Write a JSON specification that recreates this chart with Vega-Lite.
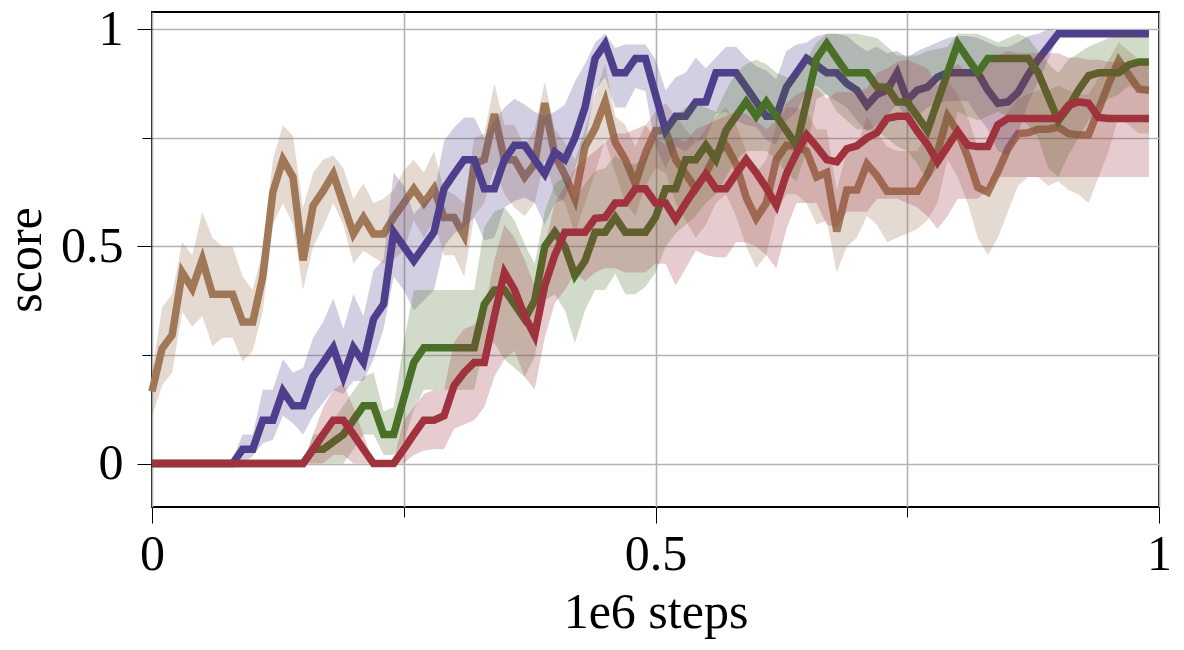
{
"$schema":"https://vega.github.io/schema/vega-lite/v6.json",
"width":1007,"height":495,
"autosize":{"type":"none"},
"padding":{"left":152,"top":12,"right":25,"bottom":143},
"background":"white",
"data":{"values":[
{"x":0.00,"p":0,"pl":0,"ph":0,"g":0,"gl":0,"gh":0,"r":0,"rl":0,"rh":0,"b":0.166,"bl":0.11,"bh":0.21},
{"x":0.01,"p":0,"pl":0,"ph":0,"g":0,"gl":0,"gh":0,"r":0,"rl":0,"rh":0,"b":0.265,"bl":0.18,"bh":0.36},
{"x":0.02,"p":0,"pl":0,"ph":0,"g":0,"gl":0,"gh":0,"r":0,"rl":0,"rh":0,"b":0.296,"bl":0.21,"bh":0.39},
{"x":0.03,"p":0,"pl":0,"ph":0,"g":0,"gl":0,"gh":0,"r":0,"rl":0,"rh":0,"b":0.44,"bl":0.35,"bh":0.51},
{"x":0.04,"p":0,"pl":0,"ph":0,"g":0,"gl":0,"gh":0,"r":0,"rl":0,"rh":0,"b":0.403,"bl":0.315,"bh":0.48},
{"x":0.05,"p":0,"pl":0,"ph":0,"g":0,"gl":0,"gh":0,"r":0,"rl":0,"rh":0,"b":0.47,"bl":0.34,"bh":0.58},
{"x":0.06,"p":0,"pl":0,"ph":0,"g":0,"gl":0,"gh":0,"r":0,"rl":0,"rh":0,"b":0.39,"bl":0.27,"bh":0.52},
{"x":0.07,"p":0,"pl":0,"ph":0,"g":0,"gl":0,"gh":0,"r":0,"rl":0,"rh":0,"b":0.39,"bl":0.29,"bh":0.5},
{"x":0.08,"p":0,"pl":0,"ph":0.01,"g":0,"gl":0,"gh":0,"r":0,"rl":0,"rh":0,"b":0.39,"bl":0.29,"bh":0.5},
{"x":0.09,"p":0.033,"pl":0,"ph":0.067,"g":0,"gl":0,"gh":0,"r":0,"rl":0,"rh":0,"b":0.326,"bl":0.235,"bh":0.43},
{"x":0.10,"p":0.033,"pl":0.017,"ph":0.067,"g":0,"gl":0,"gh":0,"r":0,"rl":0,"rh":0,"b":0.326,"bl":0.26,"bh":0.4},
{"x":0.11,"p":0.1,"pl":0.047,"ph":0.17,"g":0,"gl":0,"gh":0,"r":0,"rl":0,"rh":0,"b":0.43,"bl":0.35,"bh":0.49},
{"x":0.12,"p":0.1,"pl":0.055,"ph":0.17,"g":0,"gl":0,"gh":0,"r":0,"rl":0,"rh":0,"b":0.625,"bl":0.55,"bh":0.7},
{"x":0.13,"p":0.167,"pl":0.11,"ph":0.24,"g":0,"gl":0,"gh":0,"r":0,"rl":0,"rh":0,"b":0.7,"bl":0.6,"bh":0.78},
{"x":0.14,"p":0.133,"pl":0.093,"ph":0.21,"g":0,"gl":0,"gh":0,"r":0,"rl":0,"rh":0,"b":0.66,"bl":0.55,"bh":0.755},
{"x":0.15,"p":0.133,"pl":0.067,"ph":0.22,"g":0,"gl":0,"gh":0,"r":0,"rl":0,"rh":0,"b":0.468,"bl":0.4,"bh":0.59},
{"x":0.16,"p":0.2,"pl":0.11,"ph":0.29,"g":0.033,"gl":0,"gh":0.067,"r":0.033,"rl":0,"rh":0.067,"b":0.594,"bl":0.5,"bh":0.67},
{"x":0.17,"p":0.233,"pl":0.14,"ph":0.326,"g":0.033,"gl":0,"gh":0.067,"r":0.067,"rl":0,"rh":0.13,"b":0.628,"bl":0.545,"bh":0.7},
{"x":0.18,"p":0.267,"pl":0.17,"ph":0.38,"g":0.05,"gl":0,"gh":0.1,"r":0.1,"rl":0.02,"rh":0.17,"b":0.667,"bl":0.6,"bh":0.71},
{"x":0.19,"p":0.2,"pl":0.16,"ph":0.31,"g":0.067,"gl":0,"gh":0.133,"r":0.1,"rl":0.02,"rh":0.185,"b":0.598,"bl":0.55,"bh":0.68},
{"x":0.20,"p":0.267,"pl":0.19,"ph":0.39,"g":0.1,"gl":0.033,"gh":0.167,"r":0.067,"rl":0,"rh":0.13,"b":0.529,"bl":0.46,"bh":0.61},
{"x":0.21,"p":0.233,"pl":0.19,"ph":0.34,"g":0.133,"gl":0.067,"gh":0.2,"r":0.033,"rl":0,"rh":0.067,"b":0.567,"bl":0.49,"bh":0.645},
{"x":0.22,"p":0.333,"pl":0.24,"ph":0.445,"g":0.133,"gl":0.067,"gh":0.21,"r":0,"rl":0,"rh":0,"b":0.529,"bl":0.475,"bh":0.6},
{"x":0.23,"p":0.367,"pl":0.31,"ph":0.47,"g":0.067,"gl":0.02,"gh":0.12,"r":0,"rl":0,"rh":0,"b":0.529,"bl":0.46,"bh":0.61},
{"x":0.24,"p":0.533,"pl":0.43,"ph":0.67,"g":0.067,"gl":0.02,"gh":0.13,"r":0,"rl":0,"rh":0.01,"b":0.567,"bl":0.47,"bh":0.63},
{"x":0.25,"p":0.5,"pl":0.4,"ph":0.64,"g":0.15,"gl":0.05,"gh":0.28,"r":0.033,"rl":0,"rh":0.1,"b":0.6,"bl":0.49,"bh":0.675},
{"x":0.26,"p":0.467,"pl":0.353,"ph":0.575,"g":0.233,"gl":0.124,"gh":0.4,"r":0.067,"rl":0.02,"rh":0.13,"b":0.633,"bl":0.56,"bh":0.7},
{"x":0.27,"p":0.5,"pl":0.376,"ph":0.6,"g":0.267,"gl":0.17,"gh":0.4,"r":0.1,"rl":0.03,"rh":0.16,"b":0.6,"bl":0.52,"bh":0.67},
{"x":0.28,"p":0.533,"pl":0.4,"ph":0.62,"g":0.267,"gl":0.17,"gh":0.4,"r":0.1,"rl":0.033,"rh":0.17,"b":0.633,"bl":0.56,"bh":0.72},
{"x":0.29,"p":0.633,"pl":0.5,"ph":0.743,"g":0.267,"gl":0.17,"gh":0.4,"r":0.11,"rl":0.033,"rh":0.17,"b":0.567,"bl":0.48,"bh":0.63},
{"x":0.30,"p":0.667,"pl":0.53,"ph":0.774,"g":0.267,"gl":0.17,"gh":0.4,"r":0.18,"rl":0.08,"rh":0.28,"b":0.567,"bl":0.48,"bh":0.62},
{"x":0.31,"p":0.7,"pl":0.544,"ph":0.797,"g":0.267,"gl":0.17,"gh":0.4,"r":0.21,"rl":0.09,"rh":0.31,"b":0.525,"bl":0.43,"bh":0.6},
{"x":0.32,"p":0.7,"pl":0.567,"ph":0.797,"g":0.267,"gl":0.17,"gh":0.4,"r":0.233,"rl":0.1,"rh":0.32,"b":0.69,"bl":0.57,"bh":0.75},
{"x":0.33,"p":0.633,"pl":0.514,"ph":0.75,"g":0.367,"gl":0.277,"gh":0.545,"r":0.233,"rl":0.13,"rh":0.35,"b":0.7,"bl":0.6,"bh":0.76},
{"x":0.34,"p":0.633,"pl":0.52,"ph":0.79,"g":0.4,"gl":0.277,"gh":0.58,"r":0.34,"rl":0.2,"rh":0.47,"b":0.805,"bl":0.68,"bh":0.875},
{"x":0.35,"p":0.7,"pl":0.59,"ph":0.82,"g":0.4,"gl":0.24,"gh":0.59,"r":0.44,"rl":0.24,"rh":0.55,"b":0.7,"bl":0.62,"bh":0.78},
{"x":0.36,"p":0.733,"pl":0.605,"ph":0.84,"g":0.367,"gl":0.22,"gh":0.56,"r":0.4,"rl":0.26,"rh":0.52,"b":0.7,"bl":0.59,"bh":0.78},
{"x":0.37,"p":0.733,"pl":0.613,"ph":0.827,"g":0.333,"gl":0.2,"gh":0.506,"r":0.34,"rl":0.2,"rh":0.47,"b":0.66,"bl":0.57,"bh":0.73},
{"x":0.38,"p":0.7,"pl":0.6,"ph":0.81,"g":0.375,"gl":0.246,"gh":0.46,"r":0.295,"rl":0.17,"rh":0.41,"b":0.69,"bl":0.6,"bh":0.77},
{"x":0.39,"p":0.667,"pl":0.55,"ph":0.8,"g":0.5,"gl":0.376,"gh":0.58,"r":0.41,"rl":0.29,"rh":0.5,"b":0.83,"bl":0.7,"bh":0.88},
{"x":0.40,"p":0.717,"pl":0.6,"ph":0.81,"g":0.533,"gl":0.39,"gh":0.644,"r":0.48,"rl":0.37,"rh":0.6,"b":0.71,"bl":0.62,"bh":0.77},
{"x":0.41,"p":0.7,"pl":0.61,"ph":0.827,"g":0.5,"gl":0.353,"gh":0.66,"r":0.533,"rl":0.4,"rh":0.64,"b":0.665,"bl":0.6,"bh":0.74},
{"x":0.42,"p":0.75,"pl":0.68,"ph":0.88,"g":0.433,"gl":0.277,"gh":0.61,"r":0.533,"rl":0.44,"rh":0.68,"b":0.61,"bl":0.53,"bh":0.7},
{"x":0.43,"p":0.82,"pl":0.74,"ph":0.92,"g":0.467,"gl":0.353,"gh":0.644,"r":0.533,"rl":0.42,"rh":0.7,"b":0.73,"bl":0.6,"bh":0.77},
{"x":0.44,"p":0.933,"pl":0.86,"ph":0.97,"g":0.533,"gl":0.4,"gh":0.674,"r":0.565,"rl":0.44,"rh":0.72,"b":0.772,"bl":0.67,"bh":0.85},
{"x":0.45,"p":0.967,"pl":0.89,"ph":0.99,"g":0.533,"gl":0.4,"gh":0.68,"r":0.567,"rl":0.45,"rh":0.74,"b":0.834,"bl":0.745,"bh":0.92},
{"x":0.46,"p":0.9,"pl":0.82,"ph":0.957,"g":0.567,"gl":0.437,"gh":0.71,"r":0.6,"rl":0.45,"rh":0.76,"b":0.74,"bl":0.67,"bh":0.8},
{"x":0.47,"p":0.9,"pl":0.82,"ph":0.965,"g":0.533,"gl":0.39,"gh":0.69,"r":0.6,"rl":0.44,"rh":0.76,"b":0.7,"bl":0.6,"bh":0.78},
{"x":0.48,"p":0.933,"pl":0.865,"ph":0.965,"g":0.533,"gl":0.39,"gh":0.69,"r":0.633,"rl":0.44,"rh":0.77,"b":0.645,"bl":0.57,"bh":0.73},
{"x":0.49,"p":0.933,"pl":0.858,"ph":0.965,"g":0.533,"gl":0.407,"gh":0.705,"r":0.633,"rl":0.44,"rh":0.78,"b":0.715,"bl":0.64,"bh":0.78},
{"x":0.50,"p":0.85,"pl":0.73,"ph":0.93,"g":0.567,"gl":0.44,"gh":0.75,"r":0.6,"rl":0.46,"rh":0.75,"b":0.767,"bl":0.68,"bh":0.81},
{"x":0.51,"p":0.767,"pl":0.68,"ph":0.86,"g":0.633,"gl":0.5,"gh":0.78,"r":0.6,"rl":0.46,"rh":0.735,"b":0.767,"bl":0.67,"bh":0.83},
{"x":0.52,"p":0.8,"pl":0.73,"ph":0.89,"g":0.633,"gl":0.53,"gh":0.8,"r":0.563,"rl":0.41,"rh":0.75,"b":0.7,"bl":0.6,"bh":0.8},
{"x":0.53,"p":0.8,"pl":0.72,"ph":0.9,"g":0.7,"gl":0.55,"gh":0.82,"r":0.6,"rl":0.45,"rh":0.74,"b":0.667,"bl":0.56,"bh":0.77},
{"x":0.54,"p":0.833,"pl":0.74,"ph":0.935,"g":0.7,"gl":0.57,"gh":0.83,"r":0.635,"rl":0.49,"rh":0.77,"b":0.633,"bl":0.52,"bh":0.74},
{"x":0.55,"p":0.833,"pl":0.75,"ph":0.91,"g":0.733,"gl":0.6,"gh":0.82,"r":0.667,"rl":0.48,"rh":0.78,"b":0.667,"bl":0.55,"bh":0.77},
{"x":0.56,"p":0.9,"pl":0.805,"ph":0.935,"g":0.7,"gl":0.62,"gh":0.81,"r":0.633,"rl":0.475,"rh":0.79,"b":0.715,"bl":0.6,"bh":0.8},
{"x":0.57,"p":0.9,"pl":0.81,"ph":0.96,"g":0.767,"gl":0.66,"gh":0.86,"r":0.633,"rl":0.475,"rh":0.8,"b":0.733,"bl":0.62,"bh":0.82},
{"x":0.58,"p":0.9,"pl":0.79,"ph":0.96,"g":0.8,"gl":0.7,"gh":0.9,"r":0.667,"rl":0.51,"rh":0.81,"b":0.69,"bl":0.57,"bh":0.78},
{"x":0.59,"p":0.867,"pl":0.78,"ph":0.935,"g":0.833,"gl":0.72,"gh":0.92,"r":0.7,"rl":0.51,"rh":0.805,"b":0.613,"bl":0.5,"bh":0.72},
{"x":0.60,"p":0.833,"pl":0.775,"ph":0.915,"g":0.8,"gl":0.72,"gh":0.93,"r":0.67,"rl":0.5,"rh":0.79,"b":0.565,"bl":0.45,"bh":0.67},
{"x":0.61,"p":0.8,"pl":0.745,"ph":0.905,"g":0.833,"gl":0.72,"gh":0.92,"r":0.635,"rl":0.48,"rh":0.77,"b":0.6,"bl":0.48,"bh":0.7},
{"x":0.62,"p":0.8,"pl":0.735,"ph":0.885,"g":0.8,"gl":0.7,"gh":0.9,"r":0.595,"rl":0.45,"rh":0.79,"b":0.7,"bl":0.58,"bh":0.78},
{"x":0.63,"p":0.867,"pl":0.79,"ph":0.95,"g":0.767,"gl":0.67,"gh":0.89,"r":0.667,"rl":0.54,"rh":0.83,"b":0.733,"bl":0.62,"bh":0.82},
{"x":0.64,"p":0.9,"pl":0.81,"ph":0.965,"g":0.733,"gl":0.65,"gh":0.89,"r":0.715,"rl":0.6,"rh":0.85,"b":0.73,"bl":0.62,"bh":0.82},
{"x":0.65,"p":0.933,"pl":0.86,"ph":0.97,"g":0.833,"gl":0.72,"gh":0.93,"r":0.757,"rl":0.6,"rh":0.86,"b":0.72,"bl":0.6,"bh":0.81},
{"x":0.66,"p":0.917,"pl":0.87,"ph":0.985,"g":0.933,"gl":0.84,"gh":0.97,"r":0.73,"rl":0.6,"rh":0.865,"b":0.66,"bl":0.55,"bh":0.77},
{"x":0.67,"p":0.9,"pl":0.85,"ph":0.99,"g":0.967,"gl":0.85,"gh":0.99,"r":0.7,"rl":0.55,"rh":0.84,"b":0.67,"bl":0.56,"bh":0.77},
{"x":0.68,"p":0.9,"pl":0.835,"ph":0.99,"g":0.933,"gl":0.81,"gh":0.99,"r":0.695,"rl":0.545,"rh":0.855,"b":0.535,"bl":0.44,"bh":0.63},
{"x":0.69,"p":0.875,"pl":0.82,"ph":0.985,"g":0.9,"gl":0.79,"gh":0.99,"r":0.725,"rl":0.58,"rh":0.855,"b":0.63,"bl":0.5,"bh":0.72},
{"x":0.70,"p":0.86,"pl":0.79,"ph":0.965,"g":0.9,"gl":0.77,"gh":0.99,"r":0.732,"rl":0.58,"rh":0.855,"b":0.63,"bl":0.52,"bh":0.73},
{"x":0.71,"p":0.825,"pl":0.765,"ph":0.95,"g":0.9,"gl":0.77,"gh":0.985,"r":0.75,"rl":0.58,"rh":0.865,"b":0.69,"bl":0.57,"bh":0.8},
{"x":0.72,"p":0.85,"pl":0.78,"ph":0.96,"g":0.867,"gl":0.765,"gh":0.98,"r":0.762,"rl":0.61,"rh":0.9,"b":0.663,"bl":0.55,"bh":0.76},
{"x":0.73,"p":0.86,"pl":0.8,"ph":0.945,"g":0.867,"gl":0.75,"gh":0.96,"r":0.795,"rl":0.61,"rh":0.91,"b":0.627,"bl":0.51,"bh":0.73},
{"x":0.74,"p":0.9,"pl":0.83,"ph":0.95,"g":0.833,"gl":0.73,"gh":0.94,"r":0.8,"rl":0.61,"rh":0.925,"b":0.627,"bl":0.52,"bh":0.72},
{"x":0.75,"p":0.837,"pl":0.79,"ph":0.935,"g":0.833,"gl":0.72,"gh":0.94,"r":0.8,"rl":0.6,"rh":0.93,"b":0.627,"bl":0.53,"bh":0.72},
{"x":0.76,"p":0.86,"pl":0.8,"ph":0.95,"g":0.8,"gl":0.69,"gh":0.94,"r":0.765,"rl":0.59,"rh":0.92,"b":0.627,"bl":0.54,"bh":0.72},
{"x":0.77,"p":0.867,"pl":0.82,"ph":0.96,"g":0.767,"gl":0.65,"gh":0.95,"r":0.735,"rl":0.57,"rh":0.91,"b":0.665,"bl":0.56,"bh":0.76},
{"x":0.78,"p":0.89,"pl":0.83,"ph":0.97,"g":0.833,"gl":0.68,"gh":0.955,"r":0.695,"rl":0.54,"rh":0.87,"b":0.717,"bl":0.6,"bh":0.8},
{"x":0.79,"p":0.9,"pl":0.835,"ph":0.98,"g":0.9,"gl":0.72,"gh":0.96,"r":0.73,"rl":0.57,"rh":0.9,"b":0.8,"bl":0.7,"bh":0.88},
{"x":0.80,"p":0.9,"pl":0.835,"ph":0.985,"g":0.967,"gl":0.81,"gh":0.99,"r":0.765,"rl":0.61,"rh":0.92,"b":0.765,"bl":0.66,"bh":0.85},
{"x":0.81,"p":0.9,"pl":0.835,"ph":0.985,"g":0.933,"gl":0.8,"gh":0.99,"r":0.733,"rl":0.61,"rh":0.9,"b":0.707,"bl":0.6,"bh":0.8},
{"x":0.82,"p":0.9,"pl":0.8,"ph":0.98,"g":0.9,"gl":0.79,"gh":0.99,"r":0.73,"rl":0.61,"rh":0.89,"b":0.636,"bl":0.52,"bh":0.73},
{"x":0.83,"p":0.86,"pl":0.77,"ph":0.97,"g":0.933,"gl":0.8,"gh":0.98,"r":0.73,"rl":0.63,"rh":0.92,"b":0.625,"bl":0.48,"bh":0.72},
{"x":0.84,"p":0.83,"pl":0.72,"ph":0.96,"g":0.933,"gl":0.81,"gh":0.97,"r":0.78,"rl":0.66,"rh":0.94,"b":0.672,"bl":0.52,"bh":0.76},
{"x":0.85,"p":0.833,"pl":0.71,"ph":0.96,"g":0.933,"gl":0.8,"gh":0.98,"r":0.795,"rl":0.66,"rh":0.95,"b":0.725,"bl":0.58,"bh":0.81},
{"x":0.86,"p":0.855,"pl":0.76,"ph":0.97,"g":0.933,"gl":0.8,"gh":0.99,"r":0.795,"rl":0.66,"rh":0.945,"b":0.76,"bl":0.64,"bh":0.84},
{"x":0.87,"p":0.895,"pl":0.83,"ph":0.985,"g":0.933,"gl":0.78,"gh":0.98,"r":0.795,"rl":0.66,"rh":0.945,"b":0.762,"bl":0.66,"bh":0.85},
{"x":0.88,"p":0.93,"pl":0.88,"ph":0.99,"g":0.9,"gl":0.75,"gh":0.95,"r":0.795,"rl":0.66,"rh":0.945,"b":0.77,"bl":0.66,"bh":0.86},
{"x":0.89,"p":0.96,"pl":0.93,"ph":1.0,"g":0.845,"gl":0.68,"gh":0.92,"r":0.795,"rl":0.66,"rh":0.945,"b":0.77,"bl":0.64,"bh":0.86},
{"x":0.90,"p":0.99,"pl":0.985,"ph":0.995,"g":0.79,"gl":0.66,"gh":0.9,"r":0.795,"rl":0.66,"rh":0.945,"b":0.775,"bl":0.65,"bh":0.87},
{"x":0.91,"p":0.99,"pl":0.985,"ph":0.995,"g":0.82,"gl":0.71,"gh":0.93,"r":0.825,"rl":0.66,"rh":0.935,"b":0.76,"bl":0.63,"bh":0.86},
{"x":0.92,"p":0.99,"pl":0.985,"ph":0.995,"g":0.86,"gl":0.75,"gh":0.945,"r":0.833,"rl":0.66,"rh":0.935,"b":0.757,"bl":0.62,"bh":0.85},
{"x":0.93,"p":0.99,"pl":0.985,"ph":0.995,"g":0.893,"gl":0.79,"gh":0.96,"r":0.83,"rl":0.66,"rh":0.93,"b":0.757,"bl":0.6,"bh":0.85},
{"x":0.94,"p":0.99,"pl":0.985,"ph":0.995,"g":0.9,"gl":0.82,"gh":0.97,"r":0.797,"rl":0.66,"rh":0.93,"b":0.815,"bl":0.66,"bh":0.89},
{"x":0.95,"p":0.99,"pl":0.985,"ph":0.995,"g":0.9,"gl":0.84,"gh":0.98,"r":0.795,"rl":0.66,"rh":0.925,"b":0.875,"bl":0.72,"bh":0.93},
{"x":0.96,"p":0.99,"pl":0.985,"ph":0.995,"g":0.9,"gl":0.85,"gh":0.985,"r":0.795,"rl":0.66,"rh":0.925,"b":0.928,"bl":0.8,"bh":0.97},
{"x":0.97,"p":0.99,"pl":0.985,"ph":0.995,"g":0.918,"gl":0.87,"gh":0.99,"r":0.795,"rl":0.66,"rh":0.925,"b":0.895,"bl":0.78,"bh":0.95},
{"x":0.98,"p":0.99,"pl":0.985,"ph":0.995,"g":0.925,"gl":0.86,"gh":0.985,"r":0.795,"rl":0.66,"rh":0.925,"b":0.862,"bl":0.76,"bh":0.93},
{"x":0.99,"p":0.99,"pl":0.985,"ph":0.995,"g":0.925,"gl":0.85,"gh":0.985,"r":0.795,"rl":0.66,"rh":0.925,"b":0.86,"bl":0.76,"bh":0.93}
]},
"encoding":{
"x":{"field":"x","type":"quantitative","scale":{"domain":[0,1],"nice":false,"zero":false},
"axis":{"title":"1e6 steps","values":[0,0.25,0.5,0.75,1],"format":"~g","labelExpr":"datum.value == 0.25 || datum.value == 0.75 ? '' : datum.label","tickSize":{"condition":{"test":"datum.value == 0.25 || datum.value == 0.75","value":10},"value":16},"labelPadding":6,"titlePadding":8,"labelFlush":false}}
},
"layer":[
{"mark":{"type":"area","color":"#a07858","opacity":0.27},"encoding":{"y":{"field":"bl","type":"quantitative","title":"score","scale":{"domain":[-0.1,1.04],"nice":false,"zero":false},"axis":{"values":[0,0.25,0.5,0.75,1],"format":"~g","labelExpr":"datum.value == 0.25 || datum.value == 0.75 ? '' : datum.label","tickSize":{"condition":{"test":"datum.value == 0.25 || datum.value == 0.75","value":10},"value":15},"labelPadding":14,"titlePadding":10,"labelFlush":false}},"y2":{"field":"bh"}}},
{"mark":{"type":"line","color":"#a07858","strokeWidth":7.5,"strokeJoin":"miter"},"encoding":{"y":{"field":"b","type":"quantitative","title":"score"}}},
{"mark":{"type":"area","color":"#4f3e8b","opacity":0.25},"encoding":{"y":{"field":"pl","type":"quantitative","title":"score"},"y2":{"field":"ph"}}},
{"mark":{"type":"line","color":"#4f3e8b","strokeWidth":7.5,"strokeJoin":"miter"},"encoding":{"y":{"field":"p","type":"quantitative","title":"score"}}},
{"mark":{"type":"area","color":"#4a6f27","opacity":0.25},"encoding":{"y":{"field":"gl","type":"quantitative","title":"score"},"y2":{"field":"gh"}}},
{"mark":{"type":"line","color":"#4a6f27","strokeWidth":7.5,"strokeJoin":"miter"},"encoding":{"y":{"field":"g","type":"quantitative","title":"score"}}},
{"mark":{"type":"area","color":"#a0323e","opacity":0.25},"encoding":{"y":{"field":"rl","type":"quantitative","title":"score"},"y2":{"field":"rh"}}},
{"mark":{"type":"line","color":"#a0323e","strokeWidth":7.5,"strokeJoin":"miter"},"encoding":{"y":{"field":"r","type":"quantitative","title":"score"}}}
],
"config":{
"view":{"stroke":"#000000","strokeWidth":2},
"axis":{"domain":false,"grid":true,"gridColor":"#b3b3b3","gridWidth":1.6,"tickColor":"#000000","tickWidth":1,"labelFont":"Liberation Serif","labelFontSize":50,"labelColor":"#000000","titleFont":"Liberation Serif","titleFontSize":50,"titleFontWeight":"normal","titleColor":"#000000"}
}
}
